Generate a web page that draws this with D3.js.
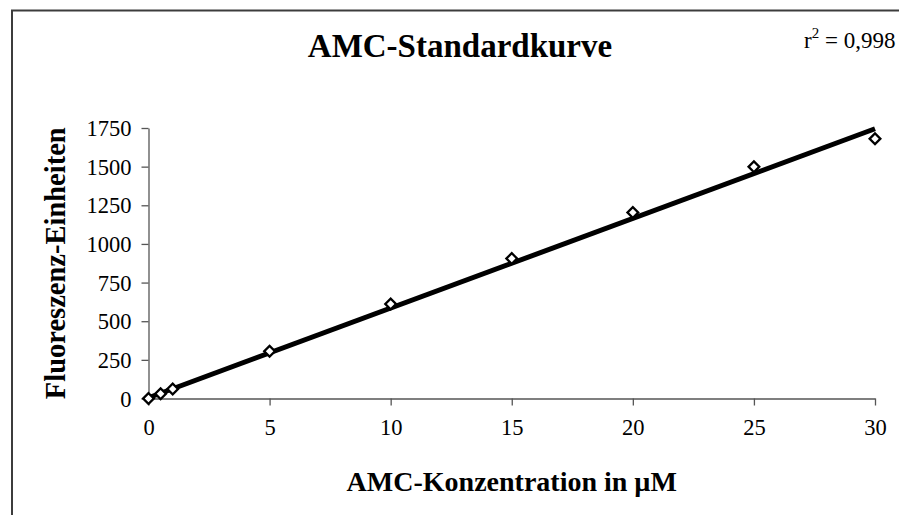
<!DOCTYPE html>
<html>
<head>
<meta charset="utf-8">
<script src="https://cdn.jsdelivr.net/npm/d3@7"></script>
<style>
  body { margin: 0; background: #fff; }
  text { font-family: "Liberation Serif", "Times New Roman", serif; }
</style>
</head>
<body>
<div id="chart"></div>
<script>
var concentrations = [0, 0.5, 1, 5, 10, 15, 20, 25, 30]
  , fluorescence = [0, 30, 62, 305, 612, 905, 1203, 1500, 1680]
  , xTicks = [0, 5, 10, 15, 20, 25, 30]
  , yTicks = [0, 250, 500, 750, 1000, 1250, 1500, 1750]
  , fitSlope = 58
  , fitIntercept = 5
  , rSquared = '0,998'
  ;

var w = 899
  , h = 515
  , plotLeft = 148.5
  , plotRight = 875
  , plotTop = 128
  , plotBottom = 398.5
  ;

var svg = d3.select('#chart').append('svg')
            .attr('width', w).attr('height', h);

// outer frame, right and bottom edges run off the picture
svg.append('rect')
  .attr('x', 12).attr('y', 10.5)
  .attr('width', w + 20).attr('height', h + 20)
  .attr('fill', 'none').attr('stroke', '#3c3c3c').attr('stroke-width', 2);

var x = d3.scaleLinear().domain([0, 30]).range([plotLeft, plotRight])
  , y = d3.scaleLinear().domain([0, 1750]).range([plotBottom, plotTop])
  ;

var xAxis = svg.append('g')
  .attr('transform', 'translate(0,' + plotBottom + ')')
  .call(d3.axisBottom(x).tickValues(xTicks).tickFormat(d3.format('d'))
          .tickSize(7).tickSizeOuter(0).tickPadding(14));

var yAxis = svg.append('g')
  .attr('transform', 'translate(' + plotLeft + ',0)')
  .call(d3.axisLeft(y).tickValues(yTicks).tickFormat(d3.format('d'))
          .tickSize(7).tickSizeOuter(0).tickPadding(10));

[xAxis, yAxis].forEach(function (a) {
  a.select('.domain').attr('stroke', '#555').attr('stroke-width', 1.3);
  a.selectAll('.tick line').attr('stroke', '#555').attr('stroke-width', 1.3);
  a.selectAll('.tick text')
    .attr('fill', '#000')
    .style('font-family', '"Liberation Serif", serif')
    .style('font-size', '22.5px');
});
xAxis.selectAll('.tick text').attr('dy', '0.71em');
yAxis.selectAll('.tick text').attr('dy', '0.34em');

// trend line
var fit = function (c) { return fitIntercept + fitSlope * c; };
svg.append('line')
  .attr('x1', x(0)).attr('y1', y(fit(0)))
  .attr('x2', x(30)).attr('y2', y(fit(30)))
  .attr('stroke', '#000').attr('stroke-width', 5)
  .attr('stroke-linecap', 'butt');

// markers
svg.selectAll('path.pt')
  .data(concentrations.map(function (c, i) { return [c, fluorescence[i]]; }))
  .enter()
  .append('path')
  .attr('class', 'pt')
  .attr('transform', function (d) {
    return 'translate(' + x(d[0]) + ',' + y(d[1]) + ') rotate(45)';
  })
  .attr('d', 'M-3.8,-3.8H3.8V3.8H-3.8Z')
  .attr('fill', '#fff').attr('stroke', '#000').attr('stroke-width', 2.3);

svg.append('text')
  .attr('x', 460).attr('y', 57)
  .attr('text-anchor', 'middle')
  .style('font-size', '33px').style('font-weight', 'bold')
  .text('AMC-Standardkurve');

var r2 = svg.append('text')
  .attr('x', 804).attr('y', 48)
  .style('font-size', '23px');
r2.append('tspan').text('r');
r2.append('tspan').attr('dy', -10).style('font-size', '15px').text('2');
r2.append('tspan').attr('dy', 10).text(' = ' + rSquared);

svg.append('text')
  .attr('x', (plotLeft + plotRight) / 2).attr('y', 491)
  .attr('text-anchor', 'middle')
  .style('font-size', '28px').style('font-weight', 'bold')
  .text('AMC-Konzentration in µM');

svg.append('text')
  .attr('transform', 'translate(65,' + (plotTop + plotBottom) / 2 + ') rotate(-90)')
  .attr('text-anchor', 'middle')
  .style('font-size', '28.5px').style('font-weight', 'bold')
  .text('Fluoreszenz-Einheiten');
</script>
</body>
</html>
